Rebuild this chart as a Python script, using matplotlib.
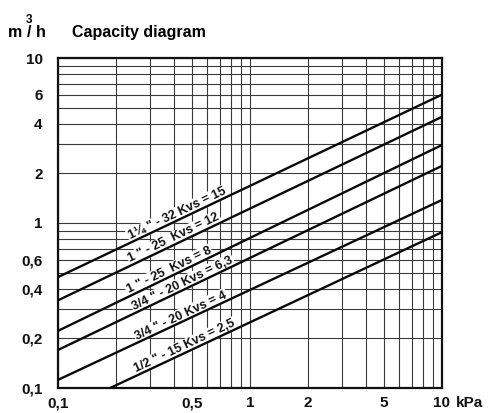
import numpy as np
import matplotlib
matplotlib.use('Agg')
import matplotlib.pyplot as plt

plt.rcParams['font.family'] = ['Liberation Sans', 'DejaVu Sans']
plt.rcParams['font.weight'] = 'bold'

# Line data (kPa, m3/h)
labels = ['1\u00bc " - 32 Kvs = 15', '1 " - 25  Kvs = 12', '1 " - 25  Kvs = 8',
          '3/4 " - 20 Kvs = 6,3', '3/4 " - 20 Kvs = 4', '1/2 " - 15 Kvs = 2,5']
dp_start = [0.1, 0.1, 0.1, 0.1, 0.1, 0.187]
q_start = [0.47, 0.34, 0.222, 0.17, 0.112, 0.1]
dp_end = [10, 10, 10, 10, 10, 10]
q_end = [6.0, 4.4, 2.97, 2.22, 1.38, 0.88]
label_dp = [0.43, 0.415, 0.39, 0.46, 0.45, 0.47]

x_ticks = [0.1, 0.5, 1, 2, 5, 10]
x_ticklabels = ['0,1', '0,5', '1', '2', '5', '10']
y_ticks = [0.1, 0.2, 0.4, 0.6, 1, 2, 4, 6, 10]
y_ticklabels = ['0,1', '0,2', '0,4', '0,6', '1', '2', '4', '6', '10']

fig = plt.figure(figsize=(4.89, 4.13), dpi=100)
ax = fig.add_axes([58 / 489, 25 / 413, 384 / 489, 330 / 413])
ax.set_xscale('log')
ax.set_yscale('log')
ax.set_xlim(0.1, 10)
ax.set_ylim(0.1, 10)

# Grid
ax.grid(True, which='both', color='#3a3a3a', linewidth=0.8)
ax.set_axisbelow(True)
for s in ax.spines.values():
    s.set_linewidth(1.6)
    s.set_color('#111111')

ax.set_xticks(x_ticks, x_ticklabels)
ax.set_yticks(y_ticks, y_ticklabels)
ax.tick_params(which='both', length=0, labelsize=11, colors='#111111')
ax.tick_params(axis='x', pad=6)
ax.tick_params(axis='y', pad=11)
for t in ax.get_xticklabels() + ax.get_yticklabels():
    t.set_fontweight('bold')

# Capacity lines
for i in range(len(labels)):
    ax.plot([dp_start[i], dp_end[i]], [q_start[i], q_end[i]], color='#0a0a0a',
            linewidth=1.7, zorder=4, solid_capstyle='butt')

fig.canvas.draw()
for i in range(len(labels)):
    p1 = ax.transData.transform((dp_start[i], q_start[i]))
    p2 = ax.transData.transform((dp_end[i], q_end[i]))
    angle = np.degrees(np.arctan2(p2[1] - p1[1], p2[0] - p1[0]))
    slope = np.log10(q_end[i] / q_start[i]) / np.log10(dp_end[i] / dp_start[i])
    q_lab = q_start[i] * (label_dp[i] / dp_start[i]) ** slope
    ax.text(label_dp[i], q_lab, labels[i], rotation=angle, rotation_mode='anchor',
            ha='center', va='bottom', fontsize=9, fontweight='bold', color='#111111',
            zorder=3, bbox=dict(facecolor='white', edgecolor='none', pad=0.8))

# Axis captions
fig.text(8 / 489, 1 - 37 / 413, 'm', fontsize=11.5, fontweight='bold', va='baseline')
fig.text(26 / 489, 1 - 23 / 413, '3', fontsize=8.5, fontweight='bold', va='baseline')
fig.text(27 / 489, 1 - 37 / 413, '/ h', fontsize=11.5, fontweight='bold', va='baseline')
fig.text(72 / 489, 1 - 37 / 413, 'Capacity diagram', fontsize=11.5, fontweight='bold', va='baseline')
ax.annotate('kPa', xy=(10, 0.1), xycoords='data', xytext=(10, -6), textcoords='offset points',
            ha='left', va='top', fontsize=11, fontweight='bold', color='#111111')

fig.savefig('out.png', dpi=100)
